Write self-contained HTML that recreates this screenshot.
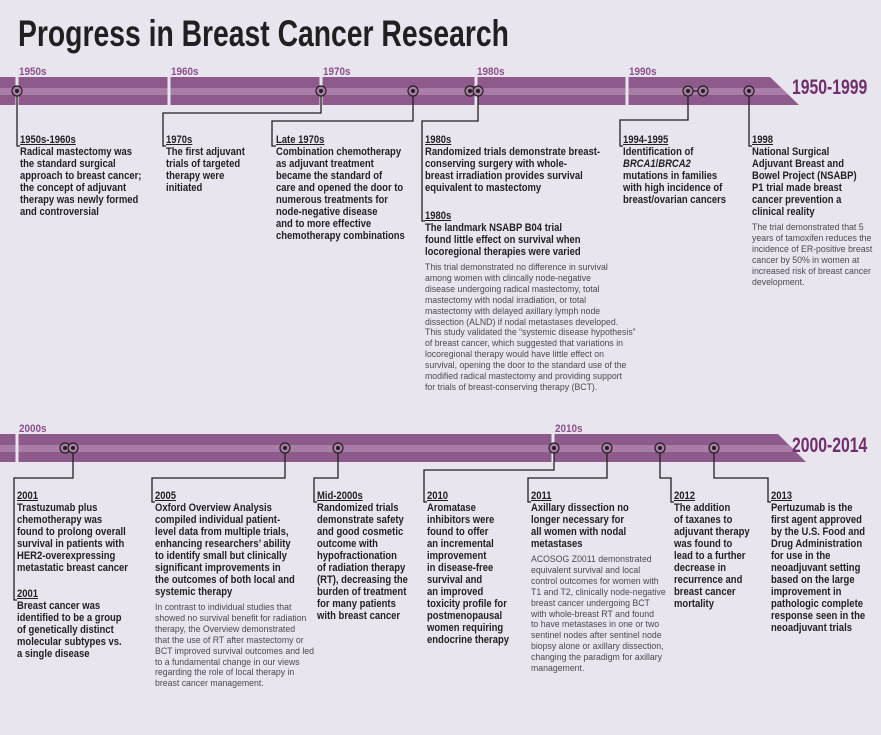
<!DOCTYPE html>
<html><head><meta charset="utf-8"><style>
body{margin:0;background:#e9e5ef;}
#c{position:relative;width:881px;height:735px;overflow:hidden;background:#e9e5ef;font-family:"Liberation Sans Narrow","Liberation Sans",sans-serif;color:#231f20;}
.t{position:absolute;white-space:nowrap;}
.h{font-weight:bold;font-size:11px;line-height:12px;text-decoration:underline;transform:scaleX(.86);transform-origin:0 0;}
.b{font-weight:bold;font-size:11px;line-height:12px;transform:scaleX(.86);transform-origin:0 0;}
.r{font-size:9px;line-height:10.9px;color:#4a4a4a;margin-top:4px;transform:scaleX(.97);transform-origin:0 0;}
.yl{position:absolute;font-weight:bold;font-size:11px;color:#8a4f88;transform:scaleX(.9);transform-origin:0 0;}
svg{position:absolute;left:0;top:0;}
</style></head><body><div id="c">
<div class="t" style="left:18px;top:14px;font-size:37px;font-weight:bold;line-height:40px;transform:scaleX(.765);transform-origin:0 0;">Progress in Breast Cancer Research</div>
<svg width="881" height="735">
<g>
<polygon points="0,77 770,77 799,105 0,105" fill="#8e5a8c"/>
<polygon points="0,88 781,88 788,95 0,95" fill="#a97ea6"/>
<polygon points="0,434 778,434 806,462 0,462" fill="#8e5a8c"/>
<polygon points="0,445 789,445 796,452 0,452" fill="#a97ea6"/>
</g>
<g stroke="#e9e5ef" stroke-width="3">
<line x1="17" y1="68" x2="17" y2="106"/><line x1="169" y1="68" x2="169" y2="106"/><line x1="321" y1="68" x2="321" y2="106"/><line x1="476" y1="68" x2="476" y2="106"/><line x1="627" y1="68" x2="627" y2="106"/>
<line x1="17" y1="425" x2="17" y2="463"/><line x1="553" y1="425" x2="553" y2="463"/>
</g>
<g fill="none" stroke="#231f20" stroke-width="1.3">
<polyline points="17,91 17,146 20,146"/>
<polyline points="321,91 321,113 163,113 163,146 166,146"/>
<polyline points="413,91 413,121 272,121 272,146 276,146"/>
<polyline points="478,91 478,121 422,121 422,221 425,221"/>
<line x1="688" y1="91" x2="703" y2="91"/>
<polyline points="688,91 688,120 620,120 620,146 623,146"/>
<polyline points="749,91 749,146 752,146"/>
<polyline points="73,448 73,478 14,478 14,600 17,600"/>
<polyline points="285,448 285,478 152,478 152,502 155,502"/>
<polyline points="338,448 338,478 314,478 314,502 317,502"/>
<polyline points="554,448 554,470 424,470 424,502 427,502"/>
<polyline points="607,448 607,478 528,478 528,502 531,502"/>
<polyline points="660,448 660,478 671,478 671,502 674,502"/>
<polyline points="714,448 714,478 768,478 768,502 771,502"/>
</g>
<g fill="#a97ea6" stroke="#231f20" stroke-width="1.2">
<circle cx="17" cy="91" r="5"/><circle cx="321" cy="91" r="5"/><circle cx="413" cy="91" r="5"/><circle cx="470" cy="91" r="5"/><circle cx="478" cy="91" r="5"/><circle cx="688" cy="91" r="5"/><circle cx="703" cy="91" r="5"/><circle cx="749" cy="91" r="5"/>
<circle cx="65" cy="448" r="5"/><circle cx="73" cy="448" r="5"/><circle cx="285" cy="448" r="5"/><circle cx="338" cy="448" r="5"/><circle cx="554" cy="448" r="5"/><circle cx="607" cy="448" r="5"/><circle cx="660" cy="448" r="5"/><circle cx="714" cy="448" r="5"/>
</g>
<g fill="#231f20">
<circle cx="17" cy="91" r="2"/><circle cx="321" cy="91" r="2"/><circle cx="413" cy="91" r="2"/><circle cx="470" cy="91" r="2"/><circle cx="478" cy="91" r="2"/><circle cx="688" cy="91" r="2"/><circle cx="703" cy="91" r="2"/><circle cx="749" cy="91" r="2"/>
<circle cx="65" cy="448" r="2"/><circle cx="73" cy="448" r="2"/><circle cx="285" cy="448" r="2"/><circle cx="338" cy="448" r="2"/><circle cx="554" cy="448" r="2"/><circle cx="607" cy="448" r="2"/><circle cx="660" cy="448" r="2"/><circle cx="714" cy="448" r="2"/>
</g>
</svg>
<div class="yl" style="left:19px;top:66px;">1950s</div>
<div class="yl" style="left:171px;top:66px;">1960s</div>
<div class="yl" style="left:323px;top:66px;">1970s</div>
<div class="yl" style="left:477px;top:66px;">1980s</div>
<div class="yl" style="left:629px;top:66px;">1990s</div>
<div class="yl" style="left:19px;top:423px;">2000s</div>
<div class="yl" style="left:555px;top:423px;">2010s</div>
<div class="t" style="left:792px;top:76px;font-size:21px;font-weight:bold;color:#6e2f6c;transform:scaleX(.75);transform-origin:0 0;">1950-1999</div>
<div class="t" style="left:792px;top:434px;font-size:21px;font-weight:bold;color:#6e2f6c;transform:scaleX(.75);transform-origin:0 0;">2000-2014</div>

<div class="t" style="left:20px;top:134px;"><div class="h">1950s-1960s</div><div class="b">Radical mastectomy was<br>the standard surgical<br>approach to breast cancer;<br>the concept of adjuvant<br>therapy was newly formed<br>and controversial</div></div>
<div class="t" style="left:166px;top:134px;"><div class="h">1970s</div><div class="b">The first adjuvant<br>trials of targeted<br>therapy were<br>initiated</div></div>
<div class="t" style="left:276px;top:134px;"><div class="h">Late 1970s</div><div class="b">Combination chemotherapy<br>as adjuvant treatment<br>became the standard of<br>care and opened the door to<br>numerous treatments for<br>node-negative disease<br>and to more effective<br>chemotherapy combinations</div></div>
<div class="t" style="left:425px;top:134px;"><div class="h">1980s</div><div class="b">Randomized trials demonstrate breast-<br>conserving surgery with whole-<br>breast irradiation provides survival<br>equivalent to mastectomy</div></div>
<div class="t" style="left:425px;top:210px;"><div class="h">1980s</div><div class="b">The landmark NSABP B04 trial<br>found little effect on survival when<br>locoregional therapies were varied</div><div class="r">This trial demonstrated no difference in survival<br>among women with clincally node-negative<br>disease undergoing radical mastectomy, total<br>mastectomy with nodal irradiation, or total<br>mastectomy with delayed axillary lymph node<br>dissection (ALND) if nodal metastases developed.<br>This study validated the “systemic disease hypothesis”<br>of breast cancer, which suggested that variations in<br>locoregional therapy would have little effect on<br>survival, opening the door to the standard use of the<br>modified radical mastectomy and providing support<br>for trials of breast-conserving therapy (BCT).</div></div>
<div class="t" style="left:623px;top:134px;"><div class="h">1994-1995</div><div class="b">Identification of<br><i>BRCA1</i>/<i>BRCA2</i><br>mutations in families<br>with high incidence of<br>breast/ovarian cancers</div></div>
<div class="t" style="left:752px;top:134px;"><div class="h">1998</div><div class="b">National Surgical<br>Adjuvant Breast and<br>Bowel Project (NSABP)<br>P1 trial made breast<br>cancer prevention a<br>clinical reality</div><div class="r">The trial demonstrated that 5<br>years of tamoxifen reduces the<br>incidence of ER-positive breast<br>cancer by 50% in women at<br>increased risk of breast cancer<br>development.</div></div>

<div class="t" style="left:17px;top:490px;"><div class="h">2001</div><div class="b">Trastuzumab plus<br>chemotherapy was<br>found to prolong overall<br>survival in patients with<br>HER2-overexpressing<br>metastatic breast cancer</div></div>
<div class="t" style="left:17px;top:588px;"><div class="h">2001</div><div class="b">Breast cancer was<br>identified to be a group<br>of genetically distinct<br>molecular subtypes vs.<br>a single disease</div></div>
<div class="t" style="left:155px;top:490px;"><div class="h">2005</div><div class="b">Oxford Overview Analysis<br>compiled individual patient-<br>level data from multiple trials,<br>enhancing researchers’ ability<br>to identify small but clinically<br>significant improvements in<br>the outcomes of both local and<br>systemic therapy</div><div class="r">In contrast to individual studies that<br>showed no survival benefit for radiation<br>therapy, the Overview demonstrated<br>that the use of RT after mastectomy or<br>BCT improved survival outcomes and led<br>to a fundamental change in our views<br>regarding the role of local therapy in<br>breast cancer management.</div></div>
<div class="t" style="left:317px;top:490px;"><div class="h">Mid-2000s</div><div class="b">Randomized trials<br>demonstrate safety<br>and good cosmetic<br>outcome with<br>hypofractionation<br>of radiation therapy<br>(RT), decreasing the<br>burden of treatment<br>for many patients<br>with breast cancer</div></div>
<div class="t" style="left:427px;top:490px;"><div class="h">2010</div><div class="b">Aromatase<br>inhibitors were<br>found to offer<br>an incremental<br>improvement<br>in disease-free<br>survival and<br>an improved<br>toxicity profile for<br>postmenopausal<br>women requiring<br>endocrine therapy</div></div>
<div class="t" style="left:531px;top:490px;"><div class="h">2011</div><div class="b">Axillary dissection no<br>longer necessary for<br>all women with nodal<br>metastases</div><div class="r">ACOSOG Z0011 demonstrated<br>equivalent survival and local<br>control outcomes for women with<br>T1 and T2, clinically node-negative<br>breast cancer undergoing BCT<br>with whole-breast RT and found<br>to have metastases in one or two<br>sentinel nodes after sentinel node<br>biopsy alone or axillary dissection,<br>changing the paradigm for axillary<br>management.</div></div>
<div class="t" style="left:674px;top:490px;"><div class="h">2012</div><div class="b">The addition<br>of taxanes to<br>adjuvant therapy<br>was found to<br>lead to a further<br>decrease in<br>recurrence and<br>breast cancer<br>mortality</div></div>
<div class="t" style="left:771px;top:490px;"><div class="h">2013</div><div class="b">Pertuzumab is the<br>first agent approved<br>by the U.S. Food and<br>Drug Administration<br>for use in the<br>neoadjuvant setting<br>based on the large<br>improvement in<br>pathologic complete<br>response seen in the<br>neoadjuvant trials</div></div>
</div></body></html>
